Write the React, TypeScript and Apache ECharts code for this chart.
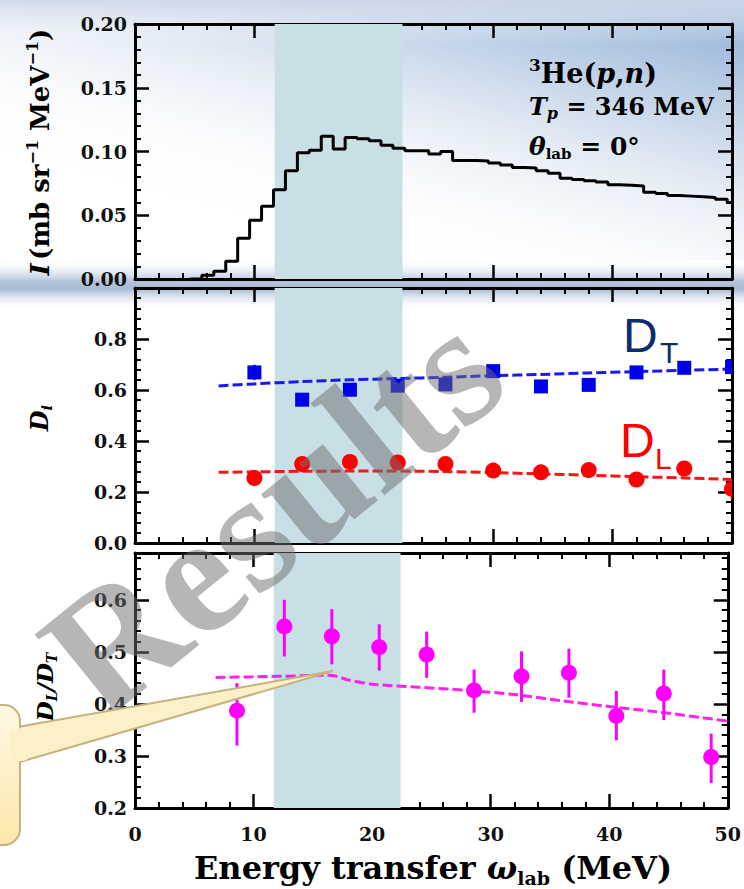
import React, { useEffect, useRef } from "react";
import * as echarts from "echarts";

// ---- Top panel: 3He(p,n) spectrum, 1-MeV bins starting at HIST_START ----
const HIST_START = 5.6;
const HIST_BIN = 1;
const histValues = [
  0.003, 0.006, 0.014, 0.032, 0.046, 0.057, 0.07, 0.085, 0.099, 0.101,
  0.112, 0.102, 0.111, 0.11, 0.1085, 0.105, 0.1025, 0.1005, 0.1005, 0.098,
  0.1, 0.093, 0.093, 0.0925, 0.091, 0.0895, 0.0875, 0.087, 0.085, 0.083,
  0.079, 0.078, 0.077, 0.076, 0.074, 0.0735, 0.073, 0.068, 0.067, 0.0655,
  0.065, 0.0645, 0.064, 0.0625, 0.06,
];

// ---- Middle panel: polarization transfer D_T and D_L ----
const dX = [10, 14, 18, 22, 26, 30, 34, 38, 42, 46, 50];
const dtValues = [0.669, 0.562, 0.601, 0.617, 0.622, 0.674, 0.614, 0.62, 0.669, 0.687, 0.69];
const dtErrors = [0.03, 0.025, 0.025, 0.025, 0.025, 0.025, 0.02, 0.02, 0.025, 0.025, 0.03];
const dlValues = [0.255, 0.31, 0.318, 0.316, 0.31, 0.284, 0.277, 0.286, 0.249, 0.292, 0.212];
const dlErrors = [0.03, 0.02, 0.02, 0.02, 0.02, 0.02, 0.02, 0.02, 0.02, 0.02, 0.04];

const calcX = [7, 10, 14, 18, 22, 26, 30, 34, 38, 42, 46, 50];
const dtCalc = [0.616, 0.624, 0.633, 0.64, 0.645, 0.65, 0.656, 0.661, 0.667, 0.672, 0.677, 0.682];
const dlCalc = [0.277, 0.279, 0.281, 0.282, 0.282, 0.28, 0.276, 0.271, 0.266, 0.26, 0.255, 0.249];

// ---- Bottom panel: ratio D_L / D_T ----
const ratioX = [8.6, 12.6, 16.6, 20.6, 24.6, 28.6, 32.6, 36.6, 40.6, 44.6, 48.6];
const ratioValues = [0.387, 0.549, 0.53, 0.509, 0.495, 0.426, 0.453, 0.46, 0.377, 0.42, 0.298];
const ratioLow = [0.32, 0.491, 0.476, 0.464, 0.45, 0.383, 0.404, 0.412, 0.33, 0.369, 0.248];
const ratioHigh = [0.44, 0.6, 0.582, 0.553, 0.539, 0.466, 0.501, 0.506, 0.425, 0.466, 0.343];
const ratioCalcX = [6.8, 10, 14, 16, 17, 18, 20, 24, 28, 32, 36, 40, 44, 48, 50];
const ratioCalc = [0.451, 0.452, 0.454, 0.455, 0.453, 0.446, 0.438, 0.432, 0.426, 0.418, 0.406, 0.395, 0.385, 0.373, 0.367];

// Highlighted energy window (MeV)
const bandRange = [11.7, 22.4];

const xTicks = { min: 0, max: 50, interval: 10 };
const yPanels = [
  { min: 0, max: 0.2, interval: 0.05, digits: 2 },
  { min: 0, max: 1.0, interval: 0.2, digits: 1 },
  { min: 0.2, max: 0.69, interval: 0.1, digits: 1 },
];

const SERIF = "DejaVu Serif";
const gridTops = [24, 288, 553];
const GRID_H = 255;

const frameLine = { show: true, onZero: false, lineStyle: { color: "#000", width: 3 } };
const majorTick = { show: true, inside: true, length: 14, lineStyle: { color: "#000", width: 2.5 } };
const minorTick = { show: true, splitNumber: 5, length: 6, lineStyle: { color: "#000", width: 2 } };
const tickLabel = { fontFamily: SERIF, fontWeight: "bold" as const, fontSize: 19, color: "#111" };

function xAxes() {
  const out: any[] = [];
  gridTops.forEach((_, g) => {
    out.push({
      type: "value", gridIndex: g, position: "bottom", ...xTicks,
      axisLine: frameLine, axisTick: majorTick, minorTick, splitLine: { show: false },
      axisLabel: g === 2 ? { ...tickLabel, margin: 16 } : { show: false },
    });
    out.push({
      type: "value", gridIndex: g, position: "top", ...xTicks,
      axisLine: frameLine, axisTick: majorTick, minorTick, splitLine: { show: false },
      axisLabel: { show: false },
    });
  });
  return out;
}

function yAxes() {
  const out: any[] = [];
  yPanels.forEach((p, g) => {
    const base = {
      type: "value", gridIndex: g, min: p.min, max: p.max, interval: p.interval,
      axisLine: frameLine, axisTick: majorTick, minorTick, splitLine: { show: false },
    };
    out.push({
      ...base, position: "left",
      axisLabel: {
        ...tickLabel, margin: 8, showMaxLabel: g === 0,
        formatter: (v: number) => v.toFixed(p.digits),
      },
    });
    out.push({ ...base, position: "right", axisLabel: { show: false } });
  });
  return out;
}

// Data points with vertical error bars, clipped to the panel frame
function measured(
  xs: number[], ys: number[], lo: number[], hi: number[],
  color: string, shape: "rect" | "circle", size: number, barWidth: number, g: number,
) {
  return {
    type: "custom", xAxisIndex: g * 2, yAxisIndex: g * 2, z: 4, silent: true, clip: true,
    data: xs.map((x, i) => [x, ys[i], lo[i], hi[i]]),
    renderItem: (_: any, api: any) => {
      const c = api.coord([api.value(0), api.value(1)]);
      const a = api.coord([api.value(0), api.value(2)]);
      const b = api.coord([api.value(0), api.value(3)]);
      const marker =
        shape === "rect"
          ? { type: "rect", shape: { x: c[0] - size / 2, y: c[1] - size / 2, width: size, height: size }, style: { fill: color } }
          : { type: "circle", shape: { cx: c[0], cy: c[1], r: size / 2 }, style: { fill: color } };
      return {
        type: "group",
        children: [
          { type: "line", shape: { x1: a[0], y1: a[1], x2: b[0], y2: b[1] }, style: { stroke: color, lineWidth: barWidth } },
          marker,
        ],
      };
    },
  };
}

function band(g: number) {
  return {
    type: "line", xAxisIndex: g * 2, yAxisIndex: g * 2, z: 0, silent: true,
    symbol: "none", lineStyle: { width: 0, opacity: 0 },
    data: [[bandRange[0], yPanels[g].min]],
    markArea: {
      silent: true,
      itemStyle: { color: "#c9dfe6" },
      data: [[{ xAxis: bandRange[0] }, { xAxis: bandRange[1] }]],
    },
  };
}

function dashed(xs: number[], ys: number[], color: string, g: number) {
  return {
    type: "line", xAxisIndex: g * 2, yAxisIndex: g * 2, z: 3, silent: true,
    symbol: "none", smooth: 0.3,
    lineStyle: { color, width: 3, type: [10, 4] },
    data: xs.map((x, i) => [x, ys[i]]),
  };
}

const histData: number[][] = [[HIST_START - HIST_BIN, 0]];
histValues.forEach((v, i) => histData.push([HIST_START + i * HIST_BIN, v]));
histData.push([xTicks.max, histValues[histValues.length - 1]]);

const richSerif = (size: number, extra: any = {}) => ({
  fontFamily: SERIF, fontSize: size, fill: "#000", lineHeight: size + 6, ...extra,
});

const option: any = {
  animation: false,
  backgroundColor: "#ffffff",
  grid: gridTops.map((top) => ({ left: 135, width: 597, top, height: GRID_H })),
  xAxis: xAxes(),
  yAxis: yAxes(),
  series: [
    band(0), band(1), band(2),
    {
      type: "line", step: "end", xAxisIndex: 0, yAxisIndex: 0, z: 3, silent: true,
      symbol: "none", lineStyle: { color: "#000", width: 3 },
      data: histData,
    },
    dashed(calcX, dtCalc, "#1a1aee", 1),
    dashed(calcX, dlCalc, "#ee1a1a", 1),
    measured(dX, dtValues, dtValues.map((v, i) => v - dtErrors[i]), dtValues.map((v, i) => v + dtErrors[i]), "#0000ee", "rect", 14, 2.5, 1),
    measured(dX, dlValues, dlValues.map((v, i) => v - dlErrors[i]), dlValues.map((v, i) => v + dlErrors[i]), "#ff0000", "circle", 16, 2.5, 1),
    dashed(ratioCalcX, ratioCalc, "#ff22ee", 2),
    measured(ratioX, ratioValues, ratioLow, ratioHigh, "#ff00ff", "circle", 16, 3, 2),
  ],
  graphic: [
    // slide background shading
    {
      type: "rect", z: -20, silent: true,
      shape: { x: 0, y: 0, width: 744, height: 260 },
      style: {
        fill: new echarts.graphic.LinearGradient(1, 0, 0.35, 0.85, [
          { offset: 0, color: "#8dadd5" },
          { offset: 0.45, color: "#d4e0ee" },
          { offset: 1, color: "rgba(255,255,255,0)" },
        ]),
      },
    },
    {
      type: "rect", z: -19, silent: true,
      shape: { x: 0, y: 0, width: 744, height: 45 },
      style: {
        fill: new echarts.graphic.LinearGradient(0, 0, 0, 1, [
          { offset: 0, color: "rgba(205,216,232,0.9)" },
          { offset: 1, color: "rgba(255,255,255,0)" },
        ]),
      },
    },
    {
      type: "rect", z: -18, silent: true,
      shape: { x: 0, y: 258, width: 744, height: 52 },
      style: {
        fill: new echarts.graphic.LinearGradient(0, 0, 0, 1, [
          { offset: 0, color: "rgba(255,255,255,0)" },
          { offset: 0.45, color: "#b3c4da" },
          { offset: 0.6, color: "#a7bbd4" },
          { offset: 1, color: "rgba(255,255,255,0)" },
        ]),
      },
    },
    // axis titles
    {
      type: "text", z: 10, x: 40, y: 152, rotation: Math.PI / 2, silent: true,
      style: {
        text: "{i|I} {t|(mb sr}{p|−1}{t| MeV}{p|−1}{t|)}",
        align: "center", verticalAlign: "middle",
        rich: {
          i: richSerif(26, { fontWeight: "bold", fontStyle: "italic" }),
          t: richSerif(26, { fontWeight: "bold" }),
          p: richSerif(16, { fontWeight: "bold", verticalAlign: "top", lineHeight: 14 }),
        },
      },
    },
    {
      type: "text", z: 10, x: 39, y: 418, rotation: Math.PI / 2, silent: true,
      style: {
        text: "{d|D}{s|i}", align: "center", verticalAlign: "middle",
        rich: {
          d: richSerif(24, { fontWeight: "bold", fontStyle: "italic" }),
          s: richSerif(15, { fontWeight: "bold", fontStyle: "italic", verticalAlign: "bottom", lineHeight: 12 }),
        },
      },
    },
    {
      type: "text", z: 10, x: 44, y: 687, rotation: Math.PI / 2, silent: true,
      style: {
        text: "{d|D}{s|L}{d|/D}{s|T}", align: "center", verticalAlign: "middle",
        rich: {
          d: richSerif(23, { fontWeight: "bold", fontStyle: "italic" }),
          s: richSerif(14, { fontWeight: "bold", fontStyle: "italic", verticalAlign: "bottom", lineHeight: 12 }),
        },
      },
    },
    {
      type: "text", z: 10, x: 433, y: 868, silent: true,
      style: {
        text: "{t|Energy transfer }{w|ω}{s|lab}{t| (MeV)}", align: "center", verticalAlign: "middle",
        rich: {
          t: richSerif(32, { fontWeight: "bold" }),
          w: richSerif(32, { fontWeight: "bold", fontStyle: "italic" }),
          s: richSerif(19, { fontWeight: "bold", verticalAlign: "bottom", lineHeight: 16 }),
        },
      },
    },
    // reaction / kinematics annotation
    {
      type: "text", z: 10, x: 529, y: 73, silent: true,
      style: {
        text: "{p|3}{t|He(}{i|p}{t|,}{i|n}{t|)}", align: "left", verticalAlign: "middle",
        rich: {
          p: richSerif(17, { fontWeight: "bold", verticalAlign: "top", lineHeight: 18 }),
          t: richSerif(27, { fontWeight: "bold" }),
          i: richSerif(27, { fontWeight: "bold", fontStyle: "italic" }),
        },
      },
    },
    {
      type: "text", z: 10, x: 529, y: 106, silent: true,
      style: {
        text: "{i|T}{s|p}{t| = 346 MeV}", align: "left", verticalAlign: "middle",
        rich: {
          i: richSerif(24, { fontStyle: "italic", fontWeight: "bold" }),
          s: richSerif(16, { fontStyle: "italic", fontWeight: "bold", verticalAlign: "bottom", lineHeight: 14 }),
          t: richSerif(24, { fontWeight: "bold" }),
        },
      },
    },
    {
      type: "text", z: 10, x: 529, y: 146, silent: true,
      style: {
        text: "{i|θ}{s|lab}{t| = 0°}", align: "left", verticalAlign: "middle",
        rich: {
          i: richSerif(25, { fontStyle: "italic", fontWeight: "bold" }),
          s: richSerif(15, { fontWeight: "bold", verticalAlign: "bottom", lineHeight: 12 }),
          t: richSerif(25, { fontWeight: "bold" }),
        },
      },
    },
    // series labels
    {
      type: "text", z: 10, x: 623, y: 335, silent: true,
      style: { text: "D", fontFamily: "Liberation Sans", fontSize: 48, fill: "#0c2c6e", align: "left", verticalAlign: "middle" },
    },
    {
      type: "text", z: 10, x: 660, y: 352, silent: true,
      style: { text: "T", fontFamily: "Liberation Sans", fontSize: 30, fill: "#0c2c6e", align: "left", verticalAlign: "middle" },
    },
    {
      type: "text", z: 10, x: 620, y: 440, silent: true,
      style: { text: "D", fontFamily: "Liberation Sans", fontSize: 48, fill: "#ff0000", align: "left", verticalAlign: "middle" },
    },
    {
      type: "text", z: 10, x: 655, y: 458, silent: true,
      style: { text: "L", fontFamily: "Liberation Sans", fontSize: 30, fill: "#ff0000", align: "left", verticalAlign: "middle" },
    },
    // watermark
    {
      type: "text", z: 40, x: 272, y: 512, rotation: 0.68, silent: true,
      style: {
        text: "Results", fontFamily: "Liberation Serif", fontWeight: "bold", fontSize: 170,
        fill: "rgba(110,110,110,0.5)", align: "center", verticalAlign: "middle",
      },
    },
    // callout balloon
    {
      type: "polygon", z: 50, silent: true,
      shape: { points: [[6, 729], [333, 671], [6, 766]] },
      style: { fill: "#fcf0c8", stroke: "#c6b27c", lineWidth: 2 },
    },
    {
      type: "rect", z: 51, silent: true,
      shape: { x: -40, y: 705, width: 60, height: 140, r: 16 },
      style: {
        fill: new echarts.graphic.LinearGradient(0, 0, 0, 1, [
          { offset: 0, color: "#fff8e2" },
          { offset: 1, color: "#fce8ac" },
        ]),
        stroke: "#c6b27c", lineWidth: 2,
      },
    },
    {
      type: "polygon", z: 52, silent: true,
      shape: { points: [[10, 730], [27, 727], [27, 760], [10, 763]] },
      style: { fill: "#fcf0c8" },
    },
  ],
};

export default function App() {
  const ref = useRef<HTMLDivElement>(null);
  useEffect(() => {
    const chart = echarts.init(ref.current!, null, { renderer: "svg" });
    chart.setOption(option);
    return () => chart.dispose();
  }, []);
  return (
    <div
      ref={ref}
      style={{ position: "absolute", left: 0, top: 0, width: 744, height: 889 }}
    />
  );
}
